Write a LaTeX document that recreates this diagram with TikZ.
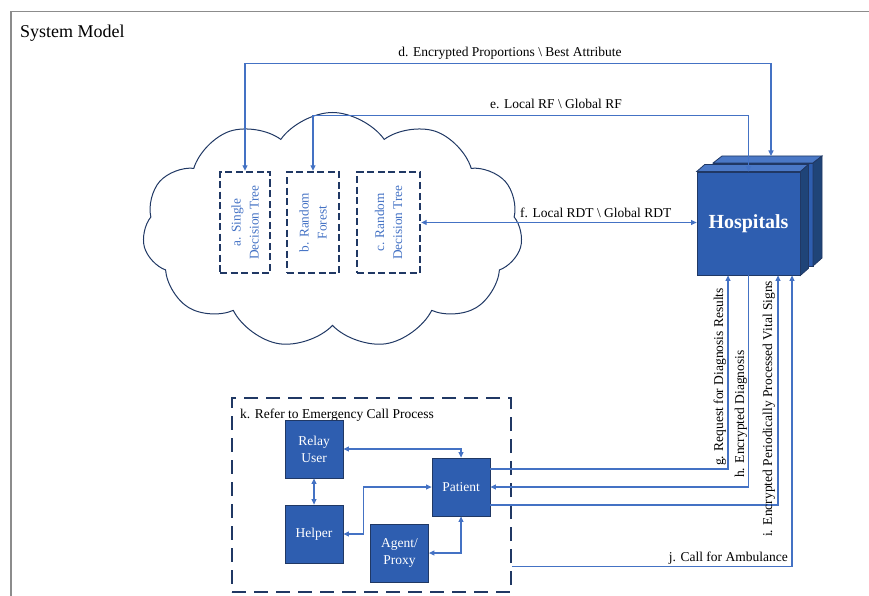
\documentclass[tikz,border=0pt]{standalone}
\usepackage{fontspec}
\setmainfont{Liberation Serif}
\usetikzlibrary{arrows.meta,shapes.symbols}

\definecolor{navy}{HTML}{203864}
\definecolor{boxblue}{HTML}{2E5EB0}
\definecolor{linkblue}{HTML}{4472C4}
\definecolor{topblue}{HTML}{4A78C6}
\definecolor{sideblue}{HTML}{1F4478}
\definecolor{framegray}{HTML}{8C8C8C}

\tikzset{
  link/.style={linkblue, line width=1.1pt},
  lbl/.style={inner sep=0pt, font=\fontsize{13.5}{16}\selectfont},
  dtbox/.style={draw=navy, line width=2.4pt, dash pattern=on 7pt off 3.5pt, minimum height=101pt, inner sep=0pt},
  dttext/.style={rotate=90, align=center, text=linkblue, font=\fontsize{13.3}{18}\selectfont},
  actor/.style={draw=navy, fill=boxblue, line width=0.8pt, text=white, minimum size=58pt, inner sep=0pt, align=center, font=\fontsize{13.5}{17}\selectfont},
  cubetop/.style={fill=topblue, draw=navy, line width=0.8pt},
  cubeside/.style={fill=sideblue, draw=navy, line width=0.8pt}
}

\begin{document}
\begin{tikzpicture}[x=1pt,y=-1pt,>={Triangle[length=5.5pt,width=5pt]}]
  \useasboundingbox (0,0) rectangle (869,596);

  % Frame
  \draw[framegray, line width=1.2pt] (11,596) -- (11,11.5) -- (869,11.5);
  \node[anchor=base west, inner sep=0pt, font=\fontsize{18}{20}\selectfont] (title) at (20,38) {System Model};

  % Cloud
  \node[cloud, cloud puffs=11, cloud puff arc=110, draw=navy, line width=1pt, minimum width=380pt, minimum height=236pt] (cloud) at (332.5,230.5) {};

  % Trees
  \node[dtbox, minimum width=50pt] (a) at (245,222.5) {};
  \node[dttext] (atxt) at (a) {a. Single\\Decision Tree};
  \node[dtbox, minimum width=52pt] (b) at (313,222.5) {};
  \node[dttext] (btxt) at (b) {b. Random\\Forest};
  \node[dtbox, minimum width=63pt] (c) at (388.5,222.5) {};
  \node[dttext] (ctxt) at (c) {c. Random\\Decision Tree};

  % Hospitals (back cube)
  \filldraw[fill=boxblue, draw=navy, line width=0.8pt] (713,163) rectangle (813,266);
  \filldraw[cubetop] (713,163) -- (722,156) -- (822,156) -- (813,163) -- cycle;
  \filldraw[cubeside] (813,163) -- (822,156) -- (822,258) -- (813,266) -- cycle;
  \coordinate (backtop) at (771,156);

  % Hospitals (front cube)
  \node[draw=navy, fill=boxblue, line width=0.8pt, minimum width=103pt, minimum height=103pt, text=white, font=\bfseries\fontsize{20}{24}\selectfont] (hosp) at (748.5,223.5) {Hospitals};
  \filldraw[cubetop] (hosp.north west) -- ++(8,-7) -- ([shift={(8,-7)}]hosp.north east) -- (hosp.north east) -- cycle;
  \filldraw[cubeside] (hosp.north east) -- ++(8,-7) -- ([shift={(8,-7)}]hosp.south east) -- (hosp.south east) -- cycle;

  % Emergency call process
  \node[draw=navy, line width=2.5pt, dash pattern=on 14pt off 8pt, minimum width=279pt, minimum height=194pt] (kbox) at (371.5,495) {};
  \node[lbl, anchor=base west] (klbl) at (240,418) {k. Refer to Emergency Call Process};
  \node[actor] (relay) at (314,449) {Relay\\User};
  \node[actor] (helper) at (314,534) {Helper};
  \node[actor] (agent) at (399.5,553) {Agent/\\Proxy};
  \node[actor] (pat) at (461,487) {Patient};

  \draw[link,<->] (relay.east) -| (pat.north);
  \draw[link,<->] (relay.south) -- (helper.north);
  \draw[link,<->] (helper.east) -- ++(20,0) |- (pat.west);
  \draw[link,<->] (agent.east) -| (pat.south);

  % Cloud <-> hospitals
  \draw[link,<->] (a.north) -- ++(0,-107) -| (backtop);
  \draw[link,<->] (b.north) -- ++(0,-55) -| (hosp.north);
  \draw[link,<->] (c.east) -- (c.east -| hosp.west);
  \node[lbl, anchor=base] (dlbl) at (510,57) {d. Encrypted Proportions \textbackslash{} Best Attribute};
  \node[lbl, anchor=base] (elbl) at (556,109) {e. Local RF \textbackslash{} Global RF};
  \node[lbl, anchor=base west] (flbl) at (520,217) {f. Local RDT \textbackslash{} Global RDT};

  % Patient <-> hospitals
  \draw[link,->] ([yshift=18pt]pat.east) -| ([xshift=-20.5pt]hosp.south);
  \draw[link,->] (hosp.south) |- (pat.east);
  \draw[link,->] ([yshift=-18pt]pat.east) -| ([xshift=29.5pt]hosp.south);
  \draw[link,->] ([yshift=27pt]kbox.south east) -| ([xshift=43.5pt]hosp.south);
  \node[lbl, rotate=90, anchor=base west] (glbl) at (723,466) {g. Request for Diagnosis Results};
  \node[lbl, rotate=90, anchor=base west] (hlbl) at (744,478) {h. Encrypted Diagnosis};
  \node[lbl, rotate=90, anchor=base west] (ilbl) at (772,537) {i. Encrypted Periodically Processed Vital Signs};
  \node[lbl, anchor=base east] (jlbl) at (788,561) {j. Call for Ambulance};
\end{tikzpicture}
\end{document}
